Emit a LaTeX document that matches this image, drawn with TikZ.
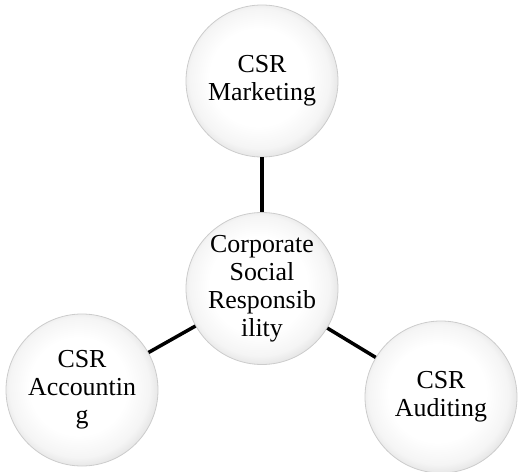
\documentclass[tikz,border=0pt]{standalone}
\usepackage{fontspec}
\setmainfont{Liberation Serif}
\pgfdeclareradialshading{ball}{\pgfpoint{-2bp}{2bp}}{color(0bp)=(white); color(16bp)=(white); color(23bp)=(black!4); color(27bp)=(black!12); color(40bp)=(black!12)}
\tikzset{
  ballnode/.style={circle, minimum size=152bp, inner sep=0pt, shade, shading=ball, draw=black!20, line width=0.8bp, align=center, font=\fontsize{26}{28}\selectfont},
  link/.style={line width=3.5bp, black}
}
\begin{document}
\begin{tikzpicture}[x=1bp,y=-1bp]
\useasboundingbox (0,0) rectangle (520,472);
\node[ballnode] (mkt) at (262,81) {CSR\\Marketing};
\node[ballnode] (csr) at (262,288.5) {Corporate\\Social\\Responsib\\ility};
\node[ballnode] (acc) at (82,390) {CSR\\Accountin\\g};
\node[ballnode] (aud) at (441,397) {CSR\\Auditing};
\draw[link] (mkt) -- (csr);
\draw[link] (acc) -- (csr);
\draw[link] (aud) -- (csr);
\end{tikzpicture}
\end{document}
